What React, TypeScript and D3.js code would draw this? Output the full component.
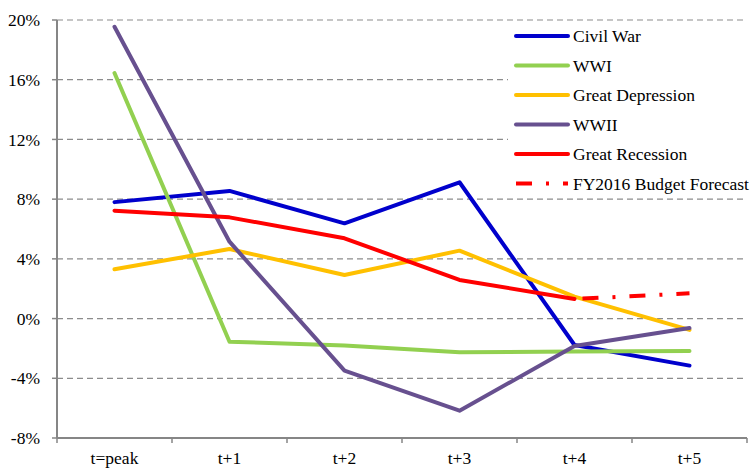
import React from "react";
import * as d3 from "d3";

const categories = ["t=peak", "t+1", "t+2", "t+3", "t+4", "t+5"];
const yTicks = [-8, -4, 0, 4, 8, 12, 16, 20];

const civilWar = [7.8, 8.55, 6.38, 9.13, -1.77, -3.15];
const wwi = [16.45, -1.55, -1.81, -2.26, -2.2, -2.17];
const greatDepression = [3.3, 4.66, 2.92, 4.55, 1.47, -0.76];
const wwii = [19.55, 5.15, -3.49, -6.17, -1.84, -0.63];
const greatRecession: (number | null)[] = [7.23, 6.78, 5.38, 2.59, 1.31, null];
const fy2016Forecast: (number | null)[] = [null, null, null, null, 1.31, 1.69];

const seriesNames = ["Civil War", "WWI", "Great Depression", "WWII", "Great Recession", "FY2016 Budget Forecast"];
const seriesColors = ["#0000CC", "#92D050", "#FFC000", "#67508F", "#FF0000", "#FF0000"];

const textStyle: React.CSSProperties = {
  fontFamily: '"Liberation Serif", "Times New Roman", Times, "DejaVu Serif", serif',
  fontSize: "17.5px",
};

export default function App() {
  const W = 750, H = 468;
  const left = 57, right = 747, top = 20, bottom = 438;
  const x = d3.scaleBand<string>().domain(categories).range([left, right]);
  const y = d3.scaleLinear().domain([-8, 20]).range([bottom, top]);
  const cx = (c: string) => (x(c) as number) + x.bandwidth() / 2;

  const allSeries = [civilWar, wwi, greatDepression, wwii, greatRecession, fy2016Forecast];
  const line = d3
    .line<number | null>()
    .defined((d) => d !== null)
    .x((_, i) => cx(categories[i]))
    .y((d) => y(d as number));

  const axisColor = "#868686";
  const legendX = 516, legendX2 = 568, legendY0 = 36, legendStep = 29.5;

  return (
    <svg
      width={W}
      height={H}
      style={{ position: "absolute", left: 0, top: 0, display: "block", background: "#fff" }}
    >
      {yTicks.filter((t) => t !== -8).map((t) => (
        <line key={"g" + t} x1={left} x2={right} y1={y(t)} y2={y(t)} stroke="#8c8c8c" strokeWidth={1.2} strokeDasharray="6,4" />
      ))}
      {yTicks.map((t) => (
        <g key={"y" + t}>
          <line x1={left - 5} x2={left} y1={y(t)} y2={y(t)} stroke={axisColor} strokeWidth={1.5} />
          <text x={40} y={y(t)} dy="0.35em" textAnchor="end" style={textStyle} fill="#000">
            {t + "%"}
          </text>
        </g>
      ))}
      {d3.range(categories.length + 1).map((i) => {
        const xp = left + i * x.bandwidth();
        return <line key={"xt" + i} x1={xp} x2={xp} y1={bottom} y2={bottom + 5} stroke={axisColor} strokeWidth={1.5} />;
      })}
      {categories.map((c) => (
        <text key={"xl" + c} x={cx(c)} y={464} textAnchor="middle" style={textStyle} fill="#000">
          {c}
        </text>
      ))}
      <line x1={left} x2={left} y1={top} y2={bottom} stroke={axisColor} strokeWidth={2} />
      <line x1={left} x2={right} y1={bottom} y2={bottom} stroke={axisColor} strokeWidth={2} />

      <rect x={508} y={24} width={242} height={171} fill="#fff" />

      {allSeries.map((s, i) => (
        <path
          key={"s" + i}
          d={line(s) || ""}
          fill="none"
          stroke={seriesColors[i]}
          strokeWidth={4}
          strokeLinejoin="round"
          strokeLinecap={i === 5 ? "butt" : "round"}
          strokeDasharray={i === 5 ? "16,14,3,14" : undefined}
          strokeDashoffset={i === 5 ? -8 : undefined}
        />
      ))}

      {seriesNames.map((n, i) => {
        const ly = legendY0 + i * legendStep;
        return (
          <g key={"l" + i}>
            <line
              x1={legendX}
              x2={legendX2}
              y1={ly}
              y2={ly}
              stroke={seriesColors[i]}
              strokeWidth={4}
              strokeLinecap={i === 5 ? "butt" : "round"}
              strokeDasharray={i === 5 ? "16,14,3,14" : undefined}
            />
            <text x={573} y={ly} dy="0.35em" style={textStyle} fill="#000">
              {n}
            </text>
          </g>
        );
      })}
    </svg>
  );
}
